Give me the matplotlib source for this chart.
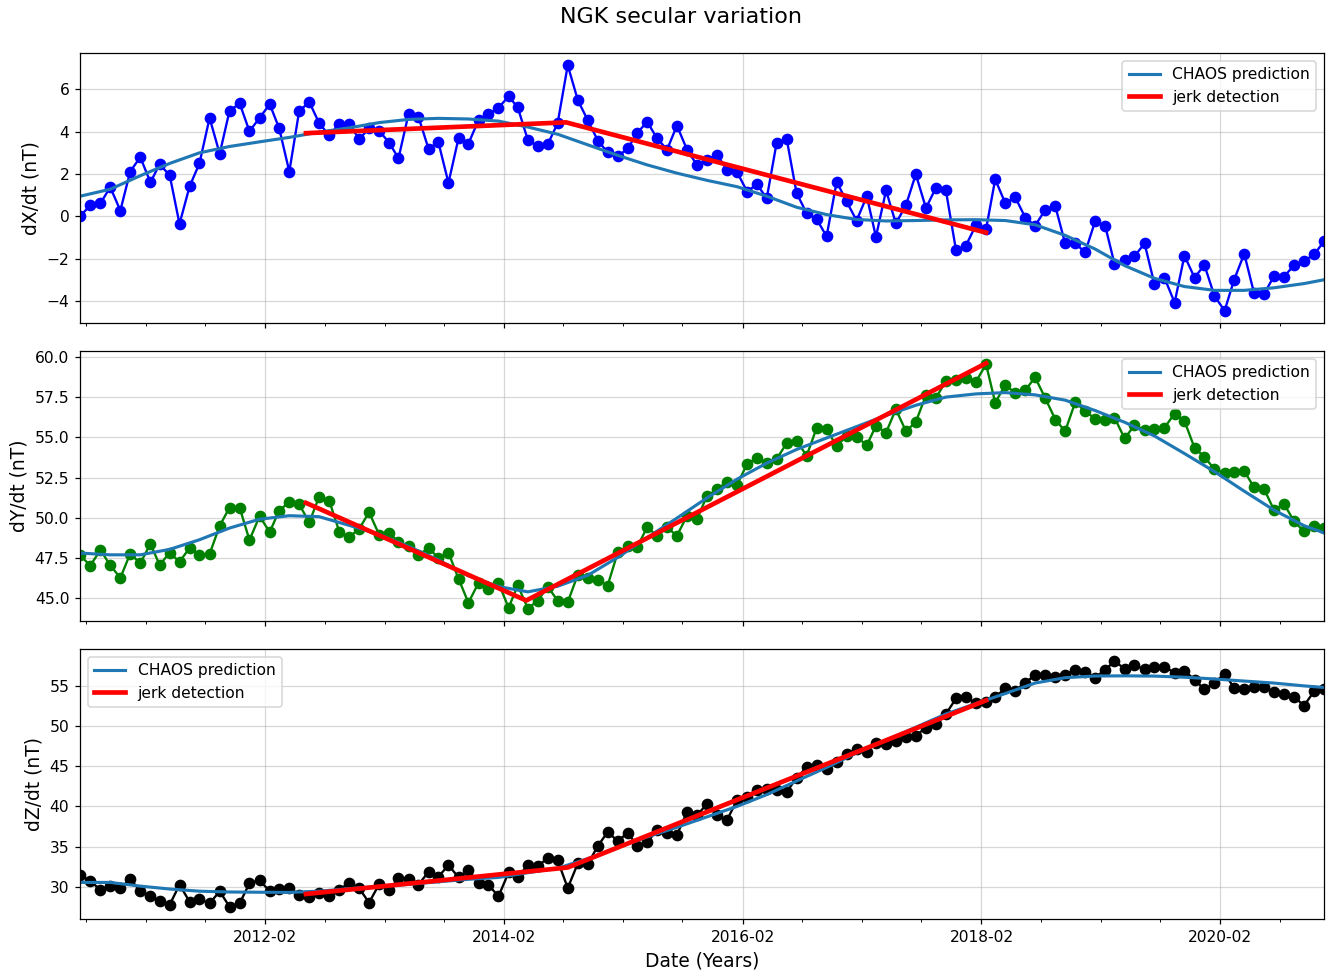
import numpy as np
import pandas as pd
import matplotlib
matplotlib.use("Agg")
import matplotlib.pyplot as plt
import matplotlib.dates as mdates

# monthly observatory means, mid-month, 2010-07 .. 2020-12
months = pd.date_range("2010-07-01", periods=126, freq="MS") + pd.Timedelta(days=14)

dX = [0.0, 0.53, 0.61, 1.38, 0.27, 2.11, 2.80, 1.60, 2.46, 1.94, -0.36, 1.42, 2.50, 4.65, 2.96,
      4.98, 5.34, 4.02, 4.65, 5.30, 4.16, 2.11, 4.96, 5.41, 4.41, 3.82, 4.38, 4.36, 3.65, 4.16,
      4.04, 3.47, 2.74, 4.85, 4.71, 3.19, 3.51, 1.58, 3.71, 3.43, 4.55, 4.82, 5.13, 5.67, 5.15,
      3.60, 3.33, 3.41, 4.40, 7.14, 5.48, 4.55, 3.58, 3.02, 2.83, 3.21, 3.93, 4.47, 3.69, 3.15,
      4.29, 3.15, 2.41, 2.68, 2.90, 2.21, 2.10, 1.16, 1.52, 0.86, 3.46, 3.65, 1.11, 0.14, -0.14,
      -0.95, 1.64, 0.70, -0.20, 0.95, -0.97, 1.22, -0.34, 0.53, 1.99, 0.39, 1.36, 1.23,
      -1.60, -1.39, -0.42, -0.61, 1.75, 0.61, 0.91, -0.06, -0.44, 0.30, 0.47, -1.28, -1.27, -1.71,
      -0.22, -0.48, -2.25, -2.07, -1.89, -1.28, -3.19, -2.91, -4.08, -1.86, -2.90, -2.30, -3.77,
      -4.46, -3.00, -1.77, -3.63, -3.66, -2.83, -2.85, -2.30, -2.11, -1.80, -1.19]

dY = [47.65, 47.01, 47.98, 47.03, 46.24, 47.75, 47.15, 48.37, 47.05, 47.81, 47.24, 48.12, 47.65,
      47.73, 49.49, 50.63, 50.63, 48.60, 50.09, 49.10, 50.44, 50.98, 50.84, 49.70, 51.29, 51.06,
      49.12, 48.79, 49.30, 50.34, 48.93, 49.07, 48.45, 48.23, 47.65, 48.12, 47.48, 47.81, 46.18,
      44.69, 45.93, 45.52, 45.93, 44.38, 45.78,
      44.32, 44.83, 45.68, 44.83, 44.73, 46.45, 46.24, 46.14, 45.76, 47.83, 48.20, 48.14, 49.41,
      48.87, 49.39, 48.87, 50.11, 49.94, 51.35, 51.77, 52.22, 52.04, 53.36, 53.70, 53.42, 53.65,
      54.65, 54.81, 53.86, 55.62, 55.50, 54.46, 55.10, 55.04, 54.52, 55.72, 55.31, 56.76, 55.39,
      55.97, 57.63, 57.48, 58.52,
      58.56, 58.73, 58.48, 59.57, 57.17, 58.29, 57.77, 57.94, 58.76, 57.46, 56.12, 55.39, 57.21,
      56.63, 56.18, 56.12, 56.24, 54.94, 55.76, 55.45, 55.50, 55.62, 56.49, 56.03, 54.35, 53.80,
      53.01, 52.80, 52.83, 52.91, 51.89, 51.77, 50.48, 50.84, 49.76, 49.14, 49.49, 49.35]

dZ = [31.45, 30.74, 29.59, 30.05, 29.80, 30.95, 29.50, 28.81, 28.27, 27.77, 30.25, 28.14, 28.44,
      27.94, 29.43, 27.52, 27.94, 30.42, 30.83, 29.43, 29.72, 29.88, 29.01, 28.76, 29.26, 28.85,
      29.63, 30.50, 29.80, 28.02, 30.33, 29.55, 31.08, 30.99, 30.25, 31.86, 31.24, 32.69, 31.16,
      32.10, 30.42, 30.25, 28.81, 31.78, 31.16,
      32.72, 32.60, 33.55, 33.30, 29.84, 32.93, 32.81, 35.07, 36.81, 35.69, 36.73, 35.07, 35.57,
      37.02, 36.65, 36.44, 39.33, 38.91, 40.32, 38.91, 38.29, 40.77, 41.19, 42.00, 42.21, 42.00,
      41.81, 43.54, 44.85, 45.10, 44.69, 45.47, 46.55, 47.17, 46.83, 47.95, 47.75, 48.16, 48.69,
      48.82, 49.80, 50.22, 51.49,
      53.43, 53.64, 52.82, 52.94, 53.64, 54.68, 54.39, 55.42, 56.32, 56.32, 56.11, 56.41, 56.94,
      56.74, 56.04, 57.03, 58.06, 57.15, 57.56, 57.07, 57.36, 57.40, 56.61, 56.86, 55.79, 54.55,
      55.37, 56.53, 54.75, 54.59, 54.88, 54.88, 54.18, 53.97, 53.64, 52.53, 54.35, 54.55]

# CHAOS model, read every third month (plus the last month)
chaos_X = [0.95, 1.28, 1.92, 2.50, 3.00, 3.30, 3.52, 3.73, 3.98, 4.18, 4.43, 4.58, 4.63, 4.60,
           4.50, 4.22, 3.88, 3.38, 2.88, 2.43, 2.04, 1.70, 1.40, 0.95, 0.43, 0.08, -0.15, -0.22,
           -0.20, -0.17, -0.16, -0.20, -0.40, -0.90, -1.55, -2.33, -2.93, -3.32, -3.50, -3.50,
           -3.38, -3.18, -3.00]
chaos_Y = [47.79, 47.68, 47.68, 48.02, 48.62, 49.35, 49.90, 50.12, 50.06, 49.52, 48.95, 48.20,
           47.36, 46.37, 45.70, 45.37, 45.72, 46.40, 47.52, 48.75, 49.97, 51.23, 52.40, 53.40,
           54.25, 54.97, 55.68, 56.38, 57.01, 57.52, 57.72, 57.80, 57.66, 57.33, 56.68, 55.95,
           55.10, 54.00, 52.87, 51.65, 50.47, 49.50, 49.05]
chaos_Z = [30.54, 30.54, 30.08, 29.72, 29.45, 29.35, 29.32, 29.30, 29.45, 29.76, 30.05, 30.30,
           30.62, 30.93, 31.16, 31.75, 32.30, 33.50, 34.90, 36.20, 37.40, 38.70, 40.00, 41.47,
           43.16, 44.85, 46.65, 48.25, 49.85, 51.50, 52.80, 54.05, 55.35, 56.02, 56.23, 56.25,
           56.22, 56.08, 55.86, 55.60, 55.35, 55.00, 54.80]
chaos_dates = months[::3].append(months[-1:])

# piecewise linear jerk fits
jerk_X_dates = ["2012-06-05", "2014-08-10", "2018-02-15"]
jerk_X = [3.93, 4.44, -0.77]
jerk_Y_dates = ["2012-06-05", "2014-04-10", "2018-02-15"]
jerk_Y = [50.92, 44.83, 59.63]
jerk_Z_dates = ["2012-06-05", "2014-08-15", "2018-02-15"]
jerk_Z = [29.1, 32.4, 53.2]

panels = [
    ("dX/dt (nT)", dX, "blue", chaos_X, jerk_X_dates, jerk_X, "upper right"),
    ("dY/dt (nT)", dY, "green", chaos_Y, jerk_Y_dates, jerk_Y, "upper right"),
    ("dZ/dt (nT)", dZ, "black", chaos_Z, jerk_Z_dates, jerk_Z, "upper left"),
]

dpi = 112
fig, axes = plt.subplots(3, 1, sharex=True, figsize=(1336 / dpi, 974 / dpi), dpi=dpi)
fig.subplots_adjust(left=0.06, right=0.991, top=0.9456, bottom=0.0565, hspace=0.104)

for ax, (label, obs, col, chaos, jdates, jvals, loc) in zip(axes, panels):
    ax.plot(months, obs, "o-", color=col, markersize=6.5, linewidth=1.5)
    ax.plot(chaos_dates, chaos, color="tab:blue", linewidth=2, label="CHAOS prediction")
    ax.plot(pd.to_datetime(jdates), jvals, color="red", linewidth=3, label="jerk detection")
    ax.set_ylabel(label, fontsize=12)
    ax.grid(True, alpha=0.5)
    ax.legend(loc=loc, fontsize=10)

axes[-1].set_xlim(months[0], months[-1])
axes[-1].xaxis.set_major_locator(mdates.YearLocator(2, month=2, day=1))
axes[-1].xaxis.set_minor_locator(mdates.MonthLocator(bymonth=[2, 8]))
axes[-1].xaxis.set_major_formatter(mdates.DateFormatter("%Y-%m"))
axes[-1].set_xlabel("Date (Years)", fontsize=12)

fig.suptitle("NGK secular variation", fontsize=14.3, x=0.51, y=0.9825, va="center")
fig.savefig("out.png", dpi=dpi)
